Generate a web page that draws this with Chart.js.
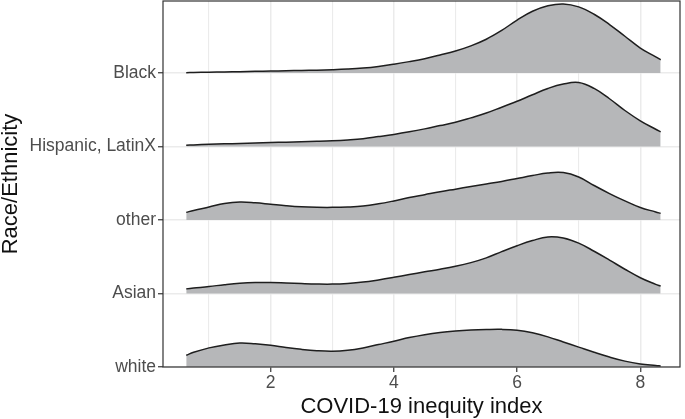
<!DOCTYPE html>
<html>
<head>
<meta charset="utf-8">
<title>COVID-19 inequity index by race/ethnicity</title>
<script src="https://cdn.jsdelivr.net/npm/chart.js@4/dist/chart.umd.min.js"></script>
<style>
  html, body { margin: 0; padding: 0; background: #ffffff; }
  #wrap { width: 685px; height: 419px; }
</style>
</head>
<body>
<div id="wrap"><canvas id="ridgeChart" width="685" height="419"></canvas></div>
<script>
// Groups, bottom to top
const groups = ['white', 'Asian', 'other', 'Hispanic, LatinX', 'Black'];

// x positions where the density curves were read
const xGrid = [0.63, 0.75, 1, 1.25, 1.5, 1.75, 2, 2.25, 2.5, 2.75, 3, 3.25, 3.5, 3.75, 4, 4.25,
               4.5, 4.75, 5, 5.25, 5.5, 5.75, 6, 6.25, 6.5, 6.75, 7, 7.25, 7.5, 7.75, 8, 8.25, 8.33];

// Density heights (in units of one row) per group
const whiteDensity    = [0.16, 0.2, 0.26, 0.3, 0.325, 0.315, 0.295, 0.265, 0.24, 0.222, 0.215, 0.228, 0.26, 0.305, 0.35, 0.4,
                         0.44, 0.47, 0.49, 0.503, 0.51, 0.512, 0.5, 0.465, 0.41, 0.34, 0.27, 0.2, 0.135, 0.08, 0.042, 0.02, 0.014];
const asianDensity    = [0.063, 0.074, 0.095, 0.12, 0.14, 0.15, 0.15, 0.143, 0.135, 0.129, 0.128, 0.137, 0.155, 0.185, 0.22, 0.258,
                         0.295, 0.33, 0.37, 0.42, 0.485, 0.57, 0.65, 0.72, 0.77, 0.755, 0.685, 0.575, 0.455, 0.33, 0.215, 0.125, 0.1];
const otherDensity    = [0.104, 0.13, 0.177, 0.225, 0.245, 0.235, 0.215, 0.195, 0.18, 0.173, 0.172, 0.177, 0.19, 0.22, 0.26, 0.305,
                         0.345, 0.385, 0.42, 0.455, 0.49, 0.525, 0.565, 0.605, 0.64, 0.645, 0.585, 0.47, 0.36, 0.26, 0.17, 0.11, 0.09];
const hispanicDensity = [0.018, 0.022, 0.03, 0.036, 0.042, 0.048, 0.054, 0.059, 0.064, 0.07, 0.078, 0.09, 0.107, 0.135, 0.165, 0.2,
                         0.24, 0.285, 0.33, 0.39, 0.455, 0.535, 0.615, 0.705, 0.79, 0.85, 0.87, 0.79, 0.65, 0.49, 0.35, 0.235, 0.2];
const blackDensity    = [0.005, 0.007, 0.011, 0.015, 0.019, 0.023, 0.027, 0.031, 0.035, 0.039, 0.045, 0.054, 0.068, 0.09, 0.12, 0.155,
                         0.195, 0.245, 0.3, 0.37, 0.46, 0.58, 0.72, 0.84, 0.915, 0.94, 0.9, 0.8, 0.66, 0.5, 0.34, 0.22, 0.18];

const densities = [whiteDensity, asianDensity, otherDensity, hispanicDensity, blackDensity];

// Axis ticks
const xTicks = [1, 2, 3, 4, 5, 6, 7, 8];
const xTickLabels = [2, 4, 6, 8];

const xRange = [0.253, 8.644];
const yRange = [0, 4.98];

// Build one line dataset per ridge, filled down to its own baseline
const datasets = groups.map(function(name, row) {
    return {
        label: name,
        data: xGrid.map(function(x, i) {
            return { x: x, y: row + densities[row][i] };
        }),
        fill: { value: row },
        backgroundColor: '#b6b7b9',
        borderColor: '#1e1e1e',
        borderWidth: 1.5,
        pointRadius: 0,
        tension: 0.4
    };
});

// Panel border drawn over everything, like theme_bw
const panelBorder = {
    id: 'panelBorder',
    afterDraw: function(chart) {
        const a = chart.chartArea;
        const ctx = chart.ctx;
        ctx.save();
        ctx.strokeStyle = '#333333';
        ctx.lineWidth = 1.2;
        ctx.strokeRect(a.left, a.top, a.right - a.left, a.bottom - a.top);
        ctx.restore();
    }
};

const tickFont = { family: '"Liberation Sans", Arial, sans-serif', size: 17.5 };
const titleFont = { family: '"Liberation Sans", Arial, sans-serif', size: 22, lineHeight: 1 };

new Chart(document.getElementById('ridgeChart'), {
    type: 'line',
    data: { datasets: datasets },
    plugins: [panelBorder],
    options: {
        responsive: false,
        animation: false,
        layout: { padding: { left: 0, right: 5, top: 1, bottom: 0 } },
        plugins: {
            legend: { display: false },
            tooltip: { enabled: false }
        },
        scales: {
            x: {
                type: 'linear',
                min: xRange[0],
                max: xRange[1],
                afterBuildTicks: function(axis) {
                    axis.ticks = xTicks.map(function(v) { return { value: v }; });
                },
                afterFit: function(axis) {
                    axis.height = 52;
                    axis.paddingLeft = 0;
                    axis.paddingRight = 0;
                },
                border: { display: false },
                grid: {
                    color: '#ebebeb',
                    lineWidth: function(c) { return xTickLabels.includes(c.tick.value) ? 1.5 : 1.1; },
                    tickLength: 5,
                    tickWidth: 1.2,
                    tickColor: function(c) { return xTickLabels.includes(c.tick.value) ? '#333333' : 'rgba(0,0,0,0)'; }
                },
                ticks: {
                    autoSkip: false,
                    maxRotation: 0,
                    padding: 1,
                    color: '#4d4d4d',
                    font: tickFont,
                    callback: function(v) { return xTickLabels.includes(v) ? String(v) : ''; }
                },
                title: {
                    display: true,
                    text: 'COVID-19 inequity index',
                    color: '#111111',
                    font: titleFont,
                    padding: { top: 0, bottom: 1 }
                }
            },
            y: {
                type: 'linear',
                min: yRange[0],
                max: yRange[1],
                afterBuildTicks: function(axis) {
                    axis.ticks = groups.map(function(g, i) { return { value: i }; });
                },
                afterFit: function(axis) {
                    axis.width = 163;
                    axis.paddingTop = 0;
                    axis.paddingBottom = 0;
                },
                border: { display: false },
                grid: {
                    color: '#ebebeb',
                    lineWidth: 1.5,
                    tickLength: 5,
                    tickWidth: 1.2,
                    tickColor: '#333333'
                },
                ticks: {
                    autoSkip: false,
                    padding: 2,
                    color: '#4d4d4d',
                    font: tickFont,
                    callback: function(v) { return groups[v]; }
                },
                title: {
                    display: true,
                    text: 'Race/Ethnicity',
                    color: '#111111',
                    font: titleFont,
                    padding: { top: 0, bottom: 0 }
                }
            }
        }
    }
});
</script>
</body>
</html>
